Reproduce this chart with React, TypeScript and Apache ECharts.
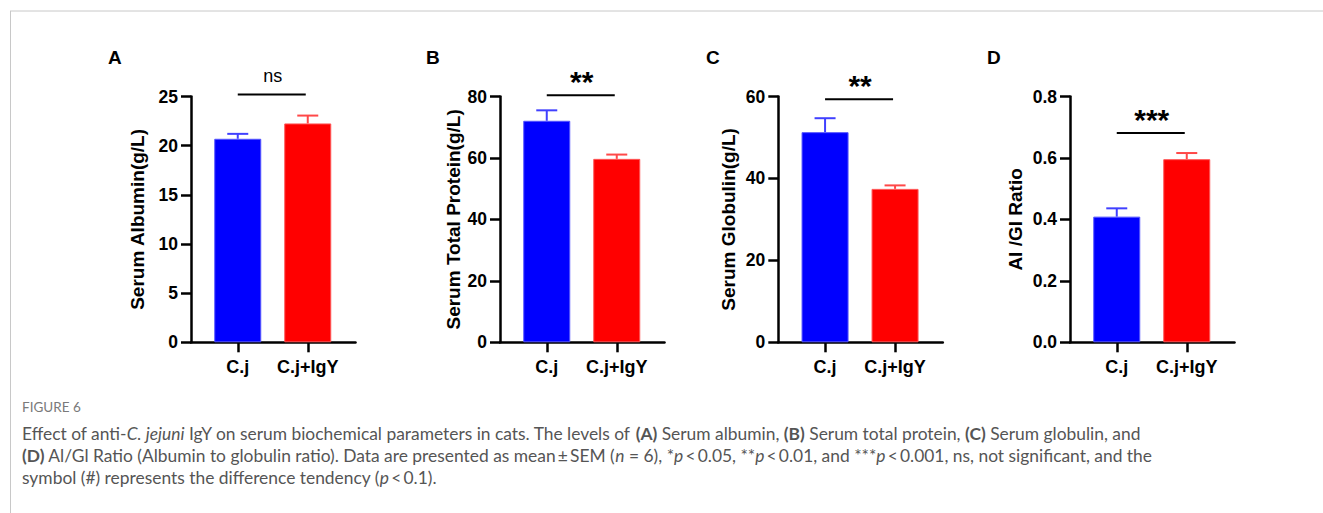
import React, { useEffect, useRef } from "react";
import * as echarts from "echarts";

const categories = ["C.j", "C.j+IgY"];
const panelLetters = ["A", "B", "C", "D"];
const yTitles = ["Serum Albumin(g/L)", "Serum Total Protein(g/L)", "Serum Globulin(g/L)", "Al /Gl Ratio"];
const yMax = [25, 80, 60, 0.8];
const yInterval = [5, 20, 20, 0.2];
const yDecimals = [0, 0, 0, 1];

const albuminMean = [20.7, 22.26];
const albuminSem = [0.5, 0.8];
const proteinMean = [72.1, 59.7];
const proteinSem = [3.4, 1.4];
const globulinMean = [51.3, 37.45];
const globulinSem = [3.4, 0.85];
const ratioMean = [0.409, 0.596];
const ratioSem = [0.027, 0.02];

const sigLabels = ["ns", "**", "**", "***"];
const sigLevels = [25.2, 80.4, 59.3, 0.681];

const means = [albuminMean, proteinMean, globulinMean, ratioMean];
const sems = [albuminSem, proteinSem, globulinSem, ratioSem];

const barColors = ["#0000ff", "#ff0000"];
const barBorders = ["#5555ff", "#ff5555"];
const errColors = ["#4040ff", "#ff4848"];

const gridLefts = [191, 500, 778.3, 1070];
const nameGaps = [44, 37, 40, 45];
const letterX = [108, 426, 706, 987];

const FONT = "'Liberation Sans', Arial, Helvetica, sans-serif";
const TS = "\u2009";

export default function App() {
  const ref = useRef<HTMLDivElement>(null);
  useEffect(() => {
    document.body.style.margin = "0";
    const chart = echarts.init(ref.current!, null, { renderer: "svg" });

    const grids: any[] = [];
    const xAxes: any[] = [];
    const yAxes: any[] = [];
    const series: any[] = [];
    const graphics: any[] = [];

    for (let p = 0; p < 4; p++) {
      grids.push({ left: gridLefts[p], top: 96.5, width: 164.5, height: 245.8 });
      xAxes.push({
        gridIndex: p,
        type: "value",
        min: -0.668,
        max: 1.682,
        splitLine: { show: false },
        axisLine: { show: true, onZero: false, lineStyle: { color: "#000", width: 2.5 } },
        axisTick: { show: true, length: 10, lineStyle: { color: "#000", width: 2.5 }, customValues: [0, 1] },
        axisLabel: {
          customValues: [0, 1],
          formatter: (v: number) => categories[Math.round(v)] ?? "",
          color: "#000",
          fontFamily: FONT,
          fontWeight: "bold",
          fontSize: 18,
          margin: 16,
        },
      });
      yAxes.push({
        gridIndex: p,
        type: "value",
        min: 0,
        max: yMax[p],
        interval: yInterval[p],
        name: yTitles[p],
        nameLocation: "middle",
        nameRotate: 90,
        nameGap: nameGaps[p],
        nameTextStyle: { color: "#000", fontFamily: FONT, fontWeight: "bold", fontSize: 19 },
        splitLine: { show: false },
        axisLine: { show: true, onZero: false, lineStyle: { color: "#000", width: 2.5 } },
        axisTick: { show: true, length: 10, lineStyle: { color: "#000", width: 2.5 } },
        axisLabel: {
          formatter: (v: number) => v.toFixed(yDecimals[p]),
          color: "#000",
          fontFamily: FONT,
          fontWeight: "bold",
          fontSize: 17.5,
          margin: 13,
        },
      });

      series.push({
        type: "bar",
        xAxisIndex: p,
        yAxisIndex: p,
        barWidth: 47,
        data: means[p].map((m, i) => ({
          value: [i, m],
          itemStyle: { color: barColors[i], borderColor: barBorders[i], borderWidth: 1 },
        })),
        z: 2,
      });

      series.push({
        type: "custom",
        xAxisIndex: p,
        yAxisIndex: p,
        z: 5,
        encode: { x: 0, y: 1 },
        data: means[p].map((m, i) => [i, m, sems[p][i]]),
        renderItem: (params: any, api: any) => {
          const x = api.value(0);
          const m = api.value(1);
          const s = api.value(2);
          const p0 = api.coord([x, m]);
          const p1 = api.coord([x, m + s]);
          const c = errColors[params.dataIndex];
          return {
            type: "group",
            children: [
              { type: "line", shape: { x1: p0[0], y1: p0[1], x2: p1[0], y2: p1[1] }, style: { stroke: c, lineWidth: 2 } },
              { type: "line", shape: { x1: p1[0] - 10.5, y1: p1[1], x2: p1[0] + 10.5, y2: p1[1] }, style: { stroke: c, lineWidth: 2 } },
            ],
          };
        },
      });

      const isStars = sigLabels[p] !== "ns";
      series.push({
        type: "custom",
        xAxisIndex: p,
        yAxisIndex: p,
        z: 6,
        clip: false,
        encode: { x: [0, 1], y: 2 },
        data: [[0, 1, sigLevels[p]]],
        renderItem: (params: any, api: any) => {
          const a = api.coord([api.value(0), api.value(2)]);
          const b = api.coord([api.value(1), api.value(2)]);
          const cx = (a[0] + b[0]) / 2;
          return {
            type: "group",
            children: [
              { type: "line", shape: { x1: a[0], y1: a[1], x2: b[0] - 2, y2: b[1] }, style: { stroke: "#000", lineWidth: 2 } },
              {
                type: "text",
                x: cx,
                y: a[1] - (isStars ? 13.5 : 18.5),
                style: {
                  text: sigLabels[p],
                  fill: "#000",
                  fontFamily: FONT,
                  fontWeight: isStars ? "bold" : "normal",
                  fontSize: isStars ? 30 : 18,
                  align: "center",
                  verticalAlign: "middle",
                  textAlign: "center",
                  textVerticalAlign: "middle",
                },
              },
            ],
          };
        },
      });

      graphics.push({
        type: "text",
        left: letterX[p],
        top: 48,
        style: { text: panelLetters[p], fill: "#000", fontFamily: FONT, fontWeight: "bold", fontSize: 19 },
      });
    }

    // frame lines
    graphics.push({ type: "line", shape: { x1: 10, y1: 11, x2: 1323, y2: 11 }, style: { stroke: "#c8c8c8", lineWidth: 1 } });
    graphics.push({ type: "line", shape: { x1: 10.5, y1: 11, x2: 10.5, y2: 513 }, style: { stroke: "#c8c8c8", lineWidth: 1 } });

    graphics.push({
      type: "text",
      left: 22,
      top: 400,
      style: { text: "FIGURE 6", fill: "#7a7a7a", fontFamily: "Lato", fontSize: 13.5 },
    });

    const caption =
      "{n|Effect of anti-}{i|C. jejuni}{n| IgY on serum biochemical parameters in cats. The levels of }{b|(A)}{n| Serum albumin, }{b|(B)}{n| Serum total protein, }{b|(C)}{n| Serum globulin, and}\n" +
      `{b|(D)}{n| Al/Gl Ratio (Albumin to globulin ratio). Data are presented as mean${TS}±${TS}SEM (}{i|n}{n| = 6), *}{i|p}{n|${TS}<${TS}0.05, **}{i|p}{n|${TS}<${TS}0.01, and ***}{i|p}{n|${TS}<${TS}0.001, ns, not significant, and the}\n` +
      `{n|symbol (#) represents the difference tendency (}{i|p}{n|${TS}<${TS}0.1).}`;
    const base = { fill: "#555", fontFamily: "Lato", fontSize: 17.4, lineHeight: 22 };
    graphics.push({
      type: "text",
      left: 22,
      top: 422,
      style: {
        text: caption,
        ...base,
        rich: {
          n: { ...base },
          i: { ...base, fontStyle: "italic" },
          b: { ...base, fontWeight: "bold" },
        },
      },
    });

    chart.setOption({
      animation: false,
      backgroundColor: "#fff",
      grid: grids,
      xAxis: xAxes,
      yAxis: yAxes,
      series,
      graphic: graphics,
    });
    return () => chart.dispose();
  }, []);
  return <div ref={ref} style={{ width: 1323, height: 513 }} />;
}
